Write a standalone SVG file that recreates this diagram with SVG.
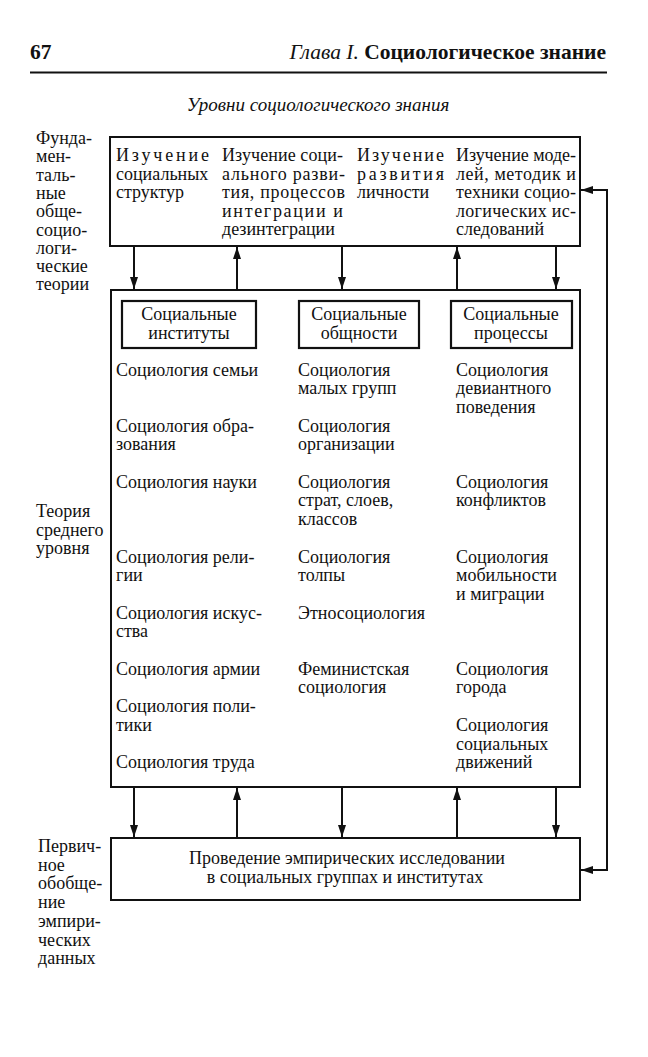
<svg xmlns="http://www.w3.org/2000/svg" width="648" height="1057" viewBox="0 0 648 1057">
<style>
text{font-family:"Liberation Serif","Times New Roman",serif;font-size:18px;fill:#111}
.hd{font-size:21.5px}
.ttl{font-size:19px;font-style:italic}
.box{fill:none;stroke:#111;stroke-width:2}
.sub{fill:none;stroke:#111;stroke-width:2.2}
.ln{fill:none;stroke:#111;stroke-width:2}
.ah{fill:#111}
.c{text-anchor:middle}
</style>
<defs>
<marker id="arr" viewBox="0 0 12 8" refX="12" refY="4" markerWidth="12" markerHeight="8" markerUnits="userSpaceOnUse" orient="auto-start-reverse">
<path d="M0,0 L12,4 L0,8 Z" class="ah"/>
</marker>
</defs>
<rect width="648" height="1057" fill="#fff"/>

<g id="header">
<text x="30" y="59" class="hd" font-weight="bold">67</text>
<text x="606" y="59" class="hd" text-anchor="end"><tspan font-style="italic">Глава I.</tspan><tspan font-weight="bold"> Социологическое знание</tspan></text>
<line x1="30" y1="72.5" x2="607" y2="72.5" stroke="#111" stroke-width="2"/>
<text x="318" y="111" class="ttl c">Уровни социологического знания</text>
</g>

<g id="label-fundamental">
<text x="36" y="144">Фунда-</text>
<text x="36" y="162.3">мен-</text>
<text x="36" y="180.6">таль-</text>
<text x="36" y="198.9">ные</text>
<text x="36" y="217.2">обще-</text>
<text x="36" y="235.5">социо-</text>
<text x="36" y="253.8">логи-</text>
<text x="36" y="272.1">ческие</text>
<text x="36" y="290.4">теории</text>
</g>

<g id="label-middle">
<text x="36" y="517">Теория</text>
<text x="36" y="535.5">среднего</text>
<text x="36" y="554">уровня</text>
</g>

<g id="label-primary">
<text x="38" y="852">Первич-</text>
<text x="38" y="870.7">ное</text>
<text x="38" y="889.4">обобще-</text>
<text x="38" y="908.1">ние</text>
<text x="38" y="926.8">эмпири-</text>
<text x="38" y="945.5">ческих</text>
<text x="38" y="964.2">данных</text>
</g>

<g id="top-box">
<rect x="110" y="137" width="470" height="109" class="box"/>
<text x="116" y="161" textLength="93" lengthAdjust="spacing">Изучение</text>
<text x="116" y="179.5">социальных</text>
<text x="116" y="198">структур</text>
<text x="222" y="161" textLength="121" lengthAdjust="spacing">Изучение соци-</text>
<text x="222" y="179.5" textLength="123" lengthAdjust="spacing">ального разви-</text>
<text x="222" y="198" textLength="123" lengthAdjust="spacing">тия, процессов</text>
<text x="222" y="216.5" textLength="121" lengthAdjust="spacing">интеграции и</text>
<text x="222" y="235">дезинтеграции</text>
<text x="357" y="161" textLength="87" lengthAdjust="spacing">Изучение</text>
<text x="357" y="179.5" textLength="87" lengthAdjust="spacing">развития</text>
<text x="357" y="198">личности</text>
<text x="456" y="161" textLength="120" lengthAdjust="spacing">Изучение моде-</text>
<text x="456" y="179.5" textLength="120" lengthAdjust="spacing">лей, методик и</text>
<text x="456" y="198" textLength="120" lengthAdjust="spacing">техники социо-</text>
<text x="456" y="216.5" textLength="120" lengthAdjust="spacing">логических ис-</text>
<text x="456" y="235">следований</text>
</g>

<g id="middle-box">
<rect x="111" y="290" width="469" height="497" class="box"/>
</g>

<g id="sub-institutes">
<rect x="122" y="301" width="134" height="47" class="sub"/>
<text x="189" y="320" class="c">Социальные</text>
<text x="189" y="338.5" class="c">институты</text>
</g>
<g id="sub-communities">
<rect x="299" y="301" width="120" height="47" class="sub"/>
<text x="359" y="320" class="c">Социальные</text>
<text x="359" y="338.5" class="c">общности</text>
</g>
<g id="sub-processes">
<rect x="451" y="301" width="121" height="47" class="sub"/>
<text x="511" y="320" class="c">Социальные</text>
<text x="511" y="338.5" class="c">процессы</text>
</g>

<g id="col-institutes">
<text x="116" y="375.5">Социология семьи</text>
<text x="116" y="431.6">Социология обра-</text>
<text x="116" y="450.3">зования</text>
<text x="116" y="487.7">Социология науки</text>
<text x="116" y="562.5">Социология рели-</text>
<text x="116" y="581.2">гии</text>
<text x="116" y="618.6">Социология искус-</text>
<text x="116" y="637.3">ства</text>
<text x="116" y="674.7">Социология армии</text>
<text x="116" y="712.1">Социология поли-</text>
<text x="116" y="730.8">тики</text>
<text x="116" y="768.2">Социология труда</text>
</g>

<g id="col-communities">
<text x="298" y="375.5">Социология</text>
<text x="298" y="394.2">малых групп</text>
<text x="298" y="431.6">Социология</text>
<text x="298" y="450.3">организации</text>
<text x="298" y="487.7">Социология</text>
<text x="298" y="506.4">страт, слоев,</text>
<text x="298" y="525.1">классов</text>
<text x="298" y="562.5">Социология</text>
<text x="298" y="581.2">толпы</text>
<text x="298" y="618.6">Этносоциология</text>
<text x="298" y="674.7">Феминистская</text>
<text x="298" y="693.4">социология</text>
</g>

<g id="col-processes">
<text x="456" y="375.5">Социология</text>
<text x="456" y="394.2">девиантного</text>
<text x="456" y="412.9">поведения</text>
<text x="456" y="487.7">Социология</text>
<text x="456" y="506.4">конфликтов</text>
<text x="456" y="562.5">Социология</text>
<text x="456" y="581.2">мобильности</text>
<text x="456" y="599.9">и миграции</text>
<text x="456" y="674.7">Социология</text>
<text x="456" y="693.4">города</text>
<text x="456" y="730.8">Социология</text>
<text x="456" y="749.5">социальных</text>
<text x="456" y="768.2">движений</text>
</g>

<g id="bottom-box">
<rect x="111" y="838" width="469" height="62" class="box"/>
<text x="347" y="864" class="c">Проведение эмпирических исследовании</text>
<text x="345" y="883" class="c">в социальных группах и институтах</text>
</g>

<g id="connectors">
<line x1="134" y1="247" x2="134" y2="289" class="ln" marker-end="url(#arr)"/>
<line x1="237" y1="289" x2="237" y2="247" class="ln" marker-end="url(#arr)"/>
<line x1="342" y1="247" x2="342" y2="289" class="ln" marker-end="url(#arr)"/>
<line x1="457" y1="289" x2="457" y2="247" class="ln" marker-end="url(#arr)"/>
<line x1="556" y1="247" x2="556" y2="289" class="ln" marker-end="url(#arr)"/>
<line x1="134" y1="788" x2="134" y2="837" class="ln" marker-end="url(#arr)"/>
<line x1="237" y1="837" x2="237" y2="788" class="ln" marker-end="url(#arr)"/>
<line x1="342" y1="788" x2="342" y2="837" class="ln" marker-end="url(#arr)"/>
<line x1="457" y1="837" x2="457" y2="788" class="ln" marker-end="url(#arr)"/>
<line x1="556" y1="788" x2="556" y2="837" class="ln" marker-end="url(#arr)"/>
<path d="M581,190 H607 V870 H581" class="ln" marker-start="url(#arr)" marker-end="url(#arr)"/>
</g>
</svg>
